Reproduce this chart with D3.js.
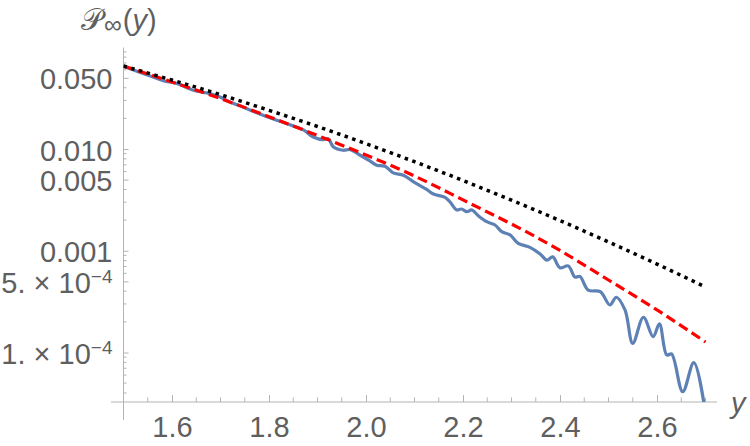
<!DOCTYPE html>
<html lang="en">
    <head>
        <meta charset="utf-8">
        <title>P infinity plot</title>
        <script src="https://d3js.org/d3.v7.min.js"></script>
        <style>
            body { margin: 0; background: #fff; }
        </style>
    </head>
    <body>
        <div id="chart_area"></div>
        <script type="text/javascript">
            // values
            var xTicks = [1.6, 1.8, 2.0, 2.2, 2.4, 2.6];
            var xTickLabels = ["1.6", "1.8", "2.0", "2.2", "2.4", "2.6"];
            var yTicks = [0.05, 0.01, 0.005, 0.001, 5e-4, 1e-4];
            var yTickLabels = ["0.050", "0.010", "0.005", "0.001", "5. \u00d7 10^\u22124", "1. \u00d7 10^\u22124"];

            var smoothX = [1.5, 1.6, 1.7, 1.8, 1.9, 2.0, 2.1, 2.2, 2.3, 2.4, 2.5, 2.6, 2.7];
            var blackDotted = [0.0654, 0.0476, 0.0342, 0.0240, 0.01664, 0.01127, 0.00750, 0.00490, 0.00314, 0.00198, 0.00122, 0.00074, 0.00044];
            var redDashed = [0.0654, 0.0456, 0.0313, 0.02077, 0.01358, 0.00873, 0.00543, 0.00316, 0.00183, 0.001006, 0.000516, 0.000262, 0.0001268];

            var blueX = [1.500, 1.555, 1.582, 1.610, 1.644, 1.678, 1.699, 1.720, 1.747, 1.781, 1.809, 1.843, 1.871, 1.891, 1.912, 1.922, 1.933, 1.953, 1.967, 1.988,
                         2.008, 2.022, 2.039, 2.056, 2.077, 2.098, 2.125, 2.139, 2.163, 2.173, 2.187, 2.197, 2.208, 2.218, 2.232, 2.249, 2.266, 2.280, 2.297, 2.314,
                         2.338, 2.359, 2.373, 2.385, 2.400, 2.417, 2.431, 2.441, 2.458, 2.483, 2.503, 2.516, 2.534, 2.550, 2.572, 2.592, 2.605, 2.620, 2.630, 2.653,
                         2.676, 2.700];
            var blueSolid = [0.0650, 0.0522, 0.0469, 0.0440, 0.0378, 0.0350, 0.0324, 0.0289, 0.0257, 0.0221, 0.0197, 0.0173, 0.0154, 0.0131, 0.01235, 0.01264, 0.01045, 0.00972, 0.00987, 0.00868,
                             0.00763, 0.00694, 0.00678, 0.00583, 0.00553, 0.00476, 0.00401, 0.00361, 0.00335, 0.00303, 0.00252, 0.00257, 0.00242, 0.00252, 0.00220, 0.00193, 0.00179, 0.00154, 0.00143, 0.00118,
                             0.00108, 0.00093, 0.00081, 0.00087, 0.00068, 0.00071, 0.00055, 0.00056, 0.00041, 0.000396, 0.000293, 0.000349, 0.000262, 0.000123, 0.000222, 0.000143, 0.000191, 0.0000945, 0.0000967, 0.0000412,
                             0.0000794, 0.000025];

            var width = 750, height = 446;
            var labelColor = "#5f5f5f";
            var axisColor = "#b4b4b4";
            var font = "'Liberation Sans', Arial, sans-serif";

            var svg = d3.select('#chart_area').append("svg")
                .attr("width", width).attr("height", height);

            var x = d3.scaleLinear().domain([1.5, 2.7]).range([123.5, 705.5]);
            var y = d3.scaleLog().domain([1e-4, 1e-2]).range([352.5, 149]);

            var plotTop = 47.5, plotBottom = 402;
            var x0 = x(1.5);

            // clip so the blue line can run off the bottom like in mathematica
            svg.append("clipPath").attr("id", "plot_clip")
                .append("rect").attr("x", x0).attr("y", plotTop)
                .attr("width", 720 - x0).attr("height", plotBottom - plotTop);

            // minor ticks (log: 2..9 multiples, linear: every 0.05)
            var yMinor = [];
            [1e-5, 1e-4, 1e-3, 1e-2].forEach(function(dec){
                for (let k = 1; k <= 9; k++){
                    let v = k * dec;
                    if (y(v) >= plotTop - 1 && y(v) <= plotBottom && yTicks.indexOf(+v.toPrecision(3)) < 0) yMinor.push(v);
                }
            });
            var xMinor = d3.range(1.5, 2.72, 0.05).filter(function(v){
                return xTicks.every(function(t){ return Math.abs(t - v) > 0.01; });
            });

            var axes_g = svg.append("g").attr("id", "axes_g");

            axes_g.selectAll(".yminor").data(yMinor).enter().append("line")
                .attr("x1", x0).attr("x2", x0 + 3)
                .attr("y1", function(d){ return y(d); }).attr("y2", function(d){ return y(d); })
                .attr("stroke", axisColor).attr("stroke-width", 1);

            axes_g.selectAll(".xminor").data(xMinor).enter().append("line")
                .attr("x1", function(d){ return x(d); }).attr("x2", function(d){ return x(d); })
                .attr("y1", plotBottom).attr("y2", plotBottom - 4.5)
                .attr("stroke", axisColor).attr("stroke-width", 1);

            // major ticks + labels via d3 axes
            var xAxis = d3.axisBottom(x).tickValues(xTicks)
                .tickFormat(function(d, i){ return xTickLabels[i]; })
                .tickSizeInner(-7).tickSizeOuter(0).tickPadding(14);
            var xg = axes_g.append("g").attr("transform", "translate(0," + plotBottom + ")").call(xAxis);

            var yAxis = d3.axisLeft(y).tickValues(yTicks)
                .tickFormat(function(d, i){ return yTickLabels[i]; })
                .tickSizeInner(-5).tickSizeOuter(0).tickPadding(11);
            var yg = axes_g.append("g").attr("transform", "translate(" + x0 + ",0)").call(yAxis);

            [xg, yg].forEach(function(g){
                g.select(".domain").remove();
                g.selectAll(".tick line").attr("stroke", axisColor).attr("stroke-width", 1);
                g.selectAll(".tick text").attr("fill", labelColor)
                    .attr("font-family", font).attr("font-size", 29);
            });
            xg.selectAll(".tick text").attr("dy", "0.71em").attr("y", 14);
            yg.selectAll(".tick text").attr("dy", null).attr("y", 11);

            // the 10^-4 labels need a superscript
            yg.selectAll(".tick text").each(function(){
                let t = d3.select(this);
                let s = t.text();
                if (s.indexOf("^") < 0) return;
                let parts = s.split("^");
                t.text(null);
                t.append("tspan").text(parts[0]);
                t.append("tspan").attr("dy", -10).attr("font-size", 19).text(parts[1]);
            });

            // axis lines, a bit past the plot range like mathematica does
            axes_g.append("line").attr("x1", 111).attr("x2", 717)
                .attr("y1", plotBottom).attr("y2", plotBottom)
                .attr("stroke", axisColor).attr("stroke-width", 1);
            axes_g.append("line").attr("x1", x0).attr("x2", x0)
                .attr("y1", plotTop).attr("y2", 420)
                .attr("stroke", axisColor).attr("stroke-width", 1);

            var main_g = svg.append("g").attr("id", "main_g").attr("clip-path", "url(#plot_clip)");

            var smoothLine = d3.line()
                .x(function(d){ return x(d[0]); })
                .y(function(d){ return y(d[1]); })
                .curve(d3.curveNatural);
            var wigglyLine = d3.line()
                .x(function(d){ return x(d[0]); })
                .y(function(d){ return y(d[1]); })
                .curve(d3.curveCatmullRom.alpha(0.5));

            main_g.append("path")
                .datum(blueX.map(function(v, i){ return [v, blueSolid[i]]; }))
                .attr("d", wigglyLine)
                .attr("fill", "none").attr("stroke", "#5e81b5").attr("stroke-width", 3.2)
                .attr("stroke-linejoin", "round").attr("stroke-linecap", "round");

            main_g.append("path")
                .datum(smoothX.map(function(v, i){ return [v, redDashed[i]]; }))
                .attr("d", smoothLine)
                .attr("fill", "none").attr("stroke", "#ff0000").attr("stroke-width", 3.2)
                .attr("stroke-dasharray", "10,5");

            main_g.append("path")
                .datum(smoothX.map(function(v, i){ return [v, blackDotted[i]]; }))
                .attr("d", smoothLine)
                .attr("fill", "none").attr("stroke", "#000000").attr("stroke-width", 3.5)
                .attr("stroke-dasharray", "3.5,4.5");

            // axis labels
            var title = svg.append("text").attr("x", 81).attr("y", 30)
                .attr("fill", labelColor).attr("font-family", font).attr("font-size", 29);
            title.append("tspan").attr("font-family", "'DejaVu Sans', serif").attr("font-size", 30).text("\ud835\udcab");
            title.append("tspan").attr("dy", 3).attr("dx", 1).attr("font-size", 25).text("\u221e");
            title.append("tspan").attr("dy", -3).attr("dx", 1).text("(");
            title.append("tspan").attr("font-style", "italic").text("y");
            title.append("tspan").text(")");

            svg.append("text").attr("x", 731).attr("y", 413)
                .attr("fill", labelColor).attr("font-family", font).attr("font-size", 29)
                .attr("font-style", "italic").text("y");
        </script>
    </body>
</html>
